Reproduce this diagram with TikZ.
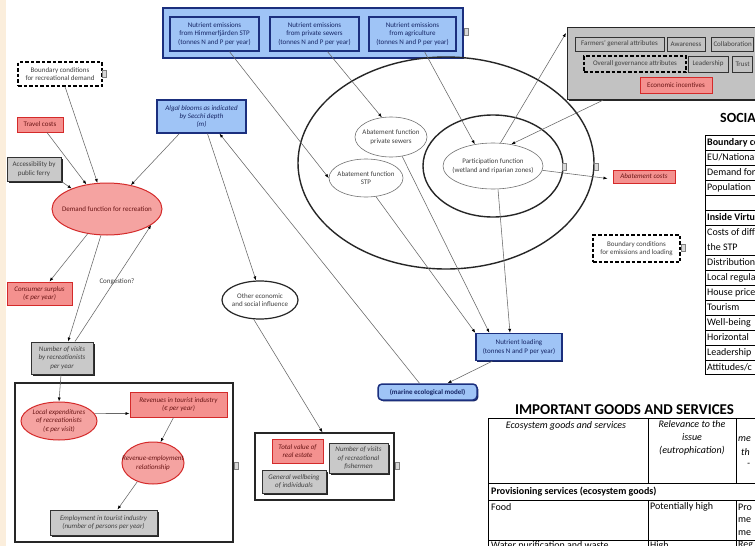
\documentclass[tikz,border=0pt]{standalone}
\usepackage{fontspec}
\setmainfont{Carlito}
\usetikzlibrary{shapes.geometric,arrows.meta,shadows,calc}
\definecolor{bdark}{HTML}{1B2F7E}
\definecolor{bfill}{HTML}{9FC4F6}
\definecolor{rdark}{HTML}{D42A2A}
\definecolor{rfill}{HTML}{F4918F}
\definecolor{efill}{HTML}{F5A3A1}
\definecolor{rshadow}{HTML}{8A1C1C}
\definecolor{gfill}{HTML}{C9C9C9}
\definecolor{sfill}{HTML}{C2C2C2}
\definecolor{beige}{HTML}{FBEEDC}
\tikzset{
  base/.style={font=\fontsize{7}{8.4}\selectfont, align=center, inner sep=1pt, text=black!75},
  itl/.style={font=\fontsize{7}{8.4}\selectfont\itshape},
  bb/.style={base, rectangle, draw=bdark, line width=1.3pt, fill=bfill, text=bdark!80!black},
  bbs/.style={bb, general shadow={fill=bdark!80!black, shadow xshift=1.3pt, shadow yshift=-1.3pt}},
  rb/.style={base, rectangle, draw=rdark, line width=1pt, fill=rfill, text=rdark!50!black,
    general shadow={fill=rshadow, shadow xshift=1.3pt, shadow yshift=-1.3pt}},
  gb/.style={base, rectangle, draw=black!80, line width=1pt, fill=gfill, text=black!75,
    general shadow={fill=black!85, shadow xshift=1.5pt, shadow yshift=-1.5pt}},
  re/.style={base, ellipse, draw=rdark, line width=1pt, fill=efill, inner sep=0pt},
  we/.style={base, ellipse, draw=black!55, line width=0.6pt, fill=white, inner sep=0pt},
  db/.style={base, rectangle, draw=black, dash pattern=on 3.5pt off 2pt, line width=1.3pt, fill=white},
  frame/.style={rectangle, draw=black!85, line width=1.2pt, inner sep=0pt},
  icon/.style={rectangle, draw=black!50, fill=black!15, minimum width=4pt, minimum height=7pt, inner sep=0pt, line width=0.4pt},
  ar/.style={draw=black!60, line width=0.55pt, -{Latex[length=4pt,width=3pt,color=black]}},
  tt/.style={font=\fontsize{10}{12}\selectfont, anchor=west, inner sep=0pt, text=black},
  tl/.style={draw=black, line width=0.6pt},
  sb/.style={base, draw=black!80, line width=1pt, fill=sfill},
}
\begin{document}
\begin{tikzpicture}[x=1pt,y=-1pt]
\useasboundingbox (0,0) rectangle (755,546);
\begin{scope}
\clip (0,0) rectangle (755,546);
\fill[white] (0,0) rectangle (755,546);
\fill[beige] (0,0) rectangle (6,546);

% ---------- emissions ----------
\node[bbs, minimum width=300pt, minimum height=50pt, line width=1.5pt] (emis) at (313,33) {};
\node[bb, minimum width=89pt, minimum height=34pt] (e1) at (214.5,34) {Nutrient emissions\\from Himmerfjärden STP\\(tonnes N and P per year)};
\node[bb, minimum width=89pt, minimum height=34pt] (e2) at (314.5,34) {Nutrient emissions\\from private sewers\\(tonnes N and P per year)};
\node[bb, minimum width=87pt, minimum height=34pt] (e3) at (412.5,34) {Nutrient emissions\\from agriculture\\(tonnes N and P per year)};
\node[icon] (ic1) at (466,32) {};

% ---------- recreation demand ----------
\node[db, minimum width=84pt, minimum height=24pt] (bcrec) at (60,74) {Boundary conditions\\for recreational demand};
\node[icon] (ic2) at (104.5,74) {};
\node[rb, minimum width=46pt, minimum height=15pt] (travel) at (40,124.5) {Travel costs};
\node[gb, minimum width=54pt, minimum height=24pt] (ferry) at (34,169) {Accessibility by\\public ferry};
\node[bbs, minimum width=89pt, minimum height=33pt, itl] (algal) at (201.5,116.5) {Algal blooms as indicated\\by Secchi depth\\(m)};
\node[re, minimum width=110pt, minimum height=52pt, label={[base, text=rdark!50!black]center:Demand function for recreation}] (demand) at (107,209) {};
\node[rb, minimum width=65pt, minimum height=23pt, itl] (surplus) at (39.5,293.5) {Consumer surplus\\(€ per year)};
\node[gb, minimum width=62pt, minimum height=32pt, itl] (visits) at (62,358) {Number of visits\\by recreationists\\per year};
\node[base] (cong) at (117,282) {Congestion?};

% ---------- left frame ----------
\node[frame, minimum width=218pt, minimum height=159pt] (lframe) at (124,462.5) {};
\node[icon] (ic3) at (236,466) {};
\node[re, minimum width=76pt, minimum height=38pt, label={[base, itl, text=rdark!50!black]center:Local expenditures\\of recreationists\\(€ per visit)}] (localexp) at (59,421) {};
\node[rb, minimum width=97pt, minimum height=25pt, itl] (revenues) at (178.5,404.5) {Revenues in tourist industry\\(€ per year)};
\node[re, minimum width=62pt, minimum height=42pt, label={[base, itl, text=rdark!50!black]center:Revenue-employment\\relationship}] (revemp) at (153,463) {};
\node[gb, minimum width=107pt, minimum height=25pt, itl] (employ) at (103.5,522.5) {Employment in tourist industry\\(number of persons per year)};

% ---------- other economic ----------
\node[ellipse, draw=black!85, line width=1.2pt, fill=white, minimum width=76pt, minimum height=38pt, inner sep=0pt, label={[base]center:Other economic\\and social influence}] (other) at (260,300) {};
\node[frame, minimum width=139pt, minimum height=67pt] (mframe) at (324.5,466.5) {};
\node[icon] (ic4) at (397,466) {};
\node[rb, minimum width=51pt, minimum height=24pt, itl] (realestate) at (297.5,451) {Total value of\\real estate};
\node[gb, minimum width=59pt, minimum height=30pt, itl] (fishermen) at (358.5,458) {Number of visits\\of recreational\\fishermen};
\node[gb, minimum width=64pt, minimum height=23pt, itl] (wellbeing) at (294,481.5) {General wellbeing\\of individuals};

% ---------- virtual boundaries ----------
\node[ellipse, draw=black!85, line width=1.4pt, minimum width=296pt, minimum height=212pt, inner sep=0pt] (outer) at (446,163) {};
\node[ellipse, draw=black!85, line width=1.4pt, minimum width=140pt, minimum height=102pt, inner sep=0pt] (inner) at (493,166) {};
\node[icon] (ic5) at (564.5,167) {};
\node[icon] (ic6) at (596,167) {};
\node[we, minimum width=72pt, minimum height=40pt, label={[base]center:Abatement function\\private sewers}] (abpriv) at (391,137) {};
\node[we, minimum width=74pt, minimum height=38pt, label={[base]center:Abatement function\\STP}] (abstp) at (366,178) {};
\node[we, minimum width=100pt, minimum height=46pt, label={[base]center:Participation function\\(wetland and riparian zones)}] (partic) at (493,166) {};
\node[rb, minimum width=62pt, minimum height=13pt, itl] (abcost) at (644,176.5) {Abatement costs};
\node[db, minimum width=87pt, minimum height=27pt] (bcem) at (636.5,248.5) {Boundary conditions\\for emissions and loading};
\node[icon] (ic7) at (683,248) {};
\node[bbs, minimum width=86pt, minimum height=27pt] (loading) at (519,347) {Nutrient loading\\(tonnes N and P per year)};
\node[bbs, rounded corners=4pt, line width=1.5pt, minimum width=99pt, minimum height=16pt, font=\fontsize{7}{8}\selectfont\bfseries] (marine) at (427.5,392) {(marine ecological model)};

% ---------- social attributes ----------
\node[rectangle, draw=black!85, line width=1.2pt, fill=sfill, minimum width=230pt, minimum height=72pt, anchor=north west, inner sep=0pt,
  general shadow={fill=black!85, shadow xshift=1.5pt, shadow yshift=-1.5pt}] (social) at (567,27) {};
\node[sb, minimum width=89pt, minimum height=14pt] (farmers) at (619.5,44) {Farmers' general attributes};
\node[sb, minimum width=38pt, minimum height=14pt] (aware) at (686,44) {Awareness};
\node[sb, minimum height=14pt, inner xsep=2pt, anchor=west] (collab) at (711,44) {Collaboration};
\node[db, fill=sfill, minimum width=102pt, minimum height=16pt] (govern) at (635,64) {Overall governance attributes};
\node[sb, minimum width=40pt, minimum height=16pt] (leader) at (708,64) {Leadership};
\node[sb, minimum height=16pt, inner xsep=3pt, anchor=west] (trust) at (732,64) {Trust};
\node[rb, minimum width=72pt, minimum height=16pt] (econ) at (676,85) {Economic incentives};

% ---------- connectors ----------
\draw[ar] ($(e1.south)+(15,0)$) -- (abstp.west);
\draw[ar] ($(e2.south)+(13,0)$) -- (abpriv.115);
\draw[ar] ($(e3.south)+(12,0)$) -- (partic.130);
\draw[ar] (partic.72) -- ($(social.north west)+(-1,6)$);
\draw[ar] ($(social.south west)+(36,0)$) -- (partic.50);
\draw[ar] (partic.-5) -- ($(abcost.west)+(-5,2)$);
\draw[ar] ($(partic.south)+(5,0)$) -- ($(loading.north)+(-9,0)$);
\draw[ar] (abpriv.-60) -- ($(loading.north west)+(14,0)$);
\draw[ar] (abstp.-62) -- (loading.north west);
\draw[ar] ($(loading.south west)+(17,0)$) -- ($(marine.north)+(20,0)$);
\draw[ar] ($(marine.north)+(-8,0)$) -- ($(algal.south)+(18,0)$);
\draw[ar] ($(algal.south)+(6,0)$) -- ($(other.north)+(-4,0)$);
\draw[ar] (other.-108) -- ($(mframe.north)+(-2,0)$);
\draw[ar] ($(algal.south west)+(23,0)$) -- (demand.45);
\draw[ar] ($(bcrec.south)+(5,0)$) -- (demand.110);
\draw[ar] ($(travel.south)+(7,0)$) -- (demand.130);
\draw[ar] (ferry.south east) -- (demand.150);
\draw[ar] (demand.-128) -- ($(surplus.north)+(10,0)$);
\draw[ar] (demand.-103) -- ($(visits.north)+(6,0)$);
\draw[ar] ($(visits.north)+(13,0)$) -- (demand.-20);
\draw[ar] ($(visits.south)+(-1,0)$) -- (localexp.north);
\draw[ar] (localexp.12) -- ($(revenues.south west)+(0,-4)$);
\draw[ar] ($(revenues.south)+(-5,0)$) -- (revemp.70);
\draw[ar] (revemp.-130) -- ($(employ.north)+(14,0)$);

% ---------- social table ----------
\node[font=\fontsize{14}{16}\selectfont\bfseries, anchor=west, inner sep=0pt] (hsoc) at (720,118) {SOCIAL};
\foreach \yy in {135,150,165,180,195,210,225,255,270,285,300,315,330,345,360,374}
  \draw[tl] (705,\yy) -- (760,\yy);
\draw[tl] (705,135) -- (705,374);
\node[tt, font=\fontsize{10}{12}\selectfont\bfseries] (s1) at (707,142.5) {Boundary conditions};
\node[tt] (s2) at (707,157.5) {EU/National};
\node[tt] (s3) at (707,172.5) {Demand for};
\node[tt] (s4) at (707,187.5) {Population};
\node[tt, font=\fontsize{10}{12}\selectfont\bfseries] (s5) at (707,217.5) {Inside Virtual};
\node[tt] (s6) at (707,232.5) {Costs of diff};
\node[tt] (s7) at (707,247) {the STP};
\node[tt] (s8) at (707,262.5) {Distribution};
\node[tt] (s9) at (707,277.5) {Local regulation};
\node[tt] (s10) at (707,292.5) {House prices};
\node[tt] (s11) at (707,307.5) {Tourism};
\node[tt] (s12) at (707,322.5) {Well-being};
\node[tt] (s13) at (707,337.5) {Horizontal};
\node[tt] (s14) at (707,352.5) {Leadership};
\node[tt] (s15) at (707,367) {Attitudes/c};

% ---------- goods and services table ----------
\node[font=\fontsize{15}{17}\selectfont\bfseries, inner sep=0pt] (hgoods) at (624.5,410) {IMPORTANT GOODS AND SERVICES};
\foreach \yy in {418,483,500,540}
  \draw[tl] (488,\yy) -- (760,\yy);
\draw[tl] (488,418) -- (488,546);
\draw[tl] (648,418) -- (648,483);
\draw[tl] (736,418) -- (736,483);
\draw[tl] (648,500) -- (648,546);
\draw[tl] (736,500) -- (736,546);
\node[tt, anchor=center, font=\fontsize{10}{12}\selectfont\itshape] (g1) at (566,426) {Ecosystem goods and services};
\node[tt, anchor=north, align=center, font=\fontsize{10}{13}\selectfont\itshape] (g2) at (692,420) {Relevance to the\\issue\\(eutrophication)};
\node[tt, font=\fontsize{10}{12}\selectfont\itshape] (g3) at (738,439) {me};
\node[tt, font=\fontsize{10}{12}\selectfont\itshape] (g4) at (741,452) {th};
\node[tt, font=\fontsize{10}{12}\selectfont\itshape] (g5) at (747,465) {-};
\node[tt, font=\fontsize{10}{12}\selectfont\bfseries] (g6) at (491,491.5) {Provisioning services (ecosystem goods)};
\node[tt] (g7) at (491,507) {Food};
\node[tt] (g8) at (650,507) {Potentially high};
\node[tt] (g9) at (738,507) {Pro};
\node[tt] (g10) at (738,520) {me};
\node[tt] (g11) at (738,533) {me};
\node[tt, anchor=north west] (g12) at (491,541) {Water purification and waste};
\node[tt, anchor=north west] (g13) at (650,541) {High};
\node[tt, anchor=north west] (g14) at (738,541) {Reg};
\end{scope}
\end{tikzpicture}
\end{document}
